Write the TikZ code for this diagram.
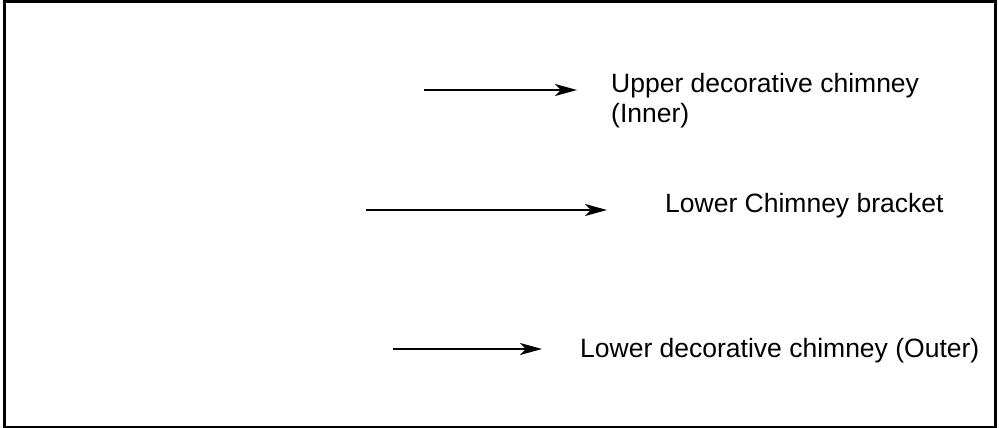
\documentclass[tikz,border=0pt]{standalone}
\usepackage{fontspec}
\setmainfont{Liberation Sans}
\usetikzlibrary{arrows.meta}
\begin{document}
\begin{tikzpicture}[x=1pt,y=-1pt,
  lbl/.style={anchor=base west,inner sep=0pt,font=\fontsize{26.5}{30}\selectfont,align=left},
  pointer/.style={line width=2pt,-{Stealth[length=22pt,width=12pt,inset=6pt]}},
  frame/.style={line width=2.5pt}]
\useasboundingbox (0,0) rectangle (999,428);
\draw[frame] (4.5,1.5) rectangle (995.5,427.5);
\coordinate (a1s) at (424,90);
\coordinate (a1e) at (577,90);
\coordinate (a2s) at (366,210);
\coordinate (a2e) at (607,210);
\coordinate (a3s) at (393,349);
\coordinate (a3e) at (542,349);
\draw[pointer] (a1s) -- (a1e);
\draw[pointer] (a2s) -- (a2e);
\draw[pointer] (a3s) -- (a3e);
\node[lbl] (t1) at (611,122) {Upper decorative chimney\\(Inner)};
\node[lbl] (t2) at (665,212) {Lower Chimney bracket};
\node[lbl] (t3) at (580,357) {Lower decorative chimney (Outer)};
\end{tikzpicture}
\end{document}
